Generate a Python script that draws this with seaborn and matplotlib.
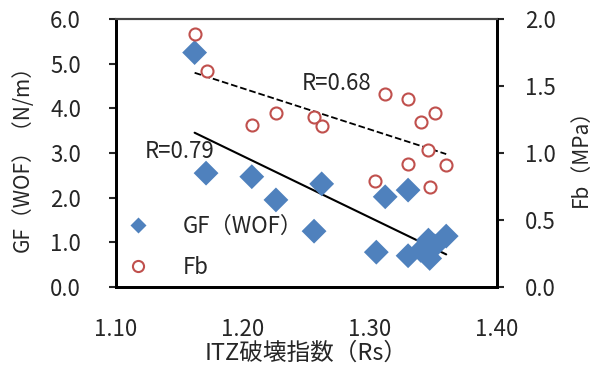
import numpy as np
import pandas as pd
import matplotlib
matplotlib.use("Agg")
import matplotlib.pyplot as plt
import seaborn as sns
from matplotlib.lines import Line2D

# ITZ破壊指数 (Rs) と各測定値
rs_gf = [1.162, 1.171, 1.207, 1.226, 1.256, 1.262, 1.305, 1.312, 1.330, 1.330,
         1.340, 1.346, 1.347, 1.351, 1.360]
gf = [5.25, 2.55, 2.47, 1.95, 1.25, 2.31, 0.78, 2.02, 2.17, 0.70,
      0.82, 1.05, 0.64, 0.92, 1.14]

rs_fb = [1.162, 1.172, 1.207, 1.226, 1.256, 1.262, 1.304, 1.312, 1.330, 1.330,
         1.340, 1.346, 1.347, 1.351, 1.360]
fb = [1.89, 1.61, 1.21, 1.30, 1.27, 1.20, 0.79, 1.44, 1.40, 0.92,
      1.23, 1.02, 0.75, 1.30, 0.91]

x_ticks = [1.10, 1.20, 1.30, 1.40]
gf_ticks = [0, 1, 2, 3, 4, 5, 6]
fb_ticks = [0, 0.5, 1.0, 1.5, 2.0]

df_gf = pd.DataFrame({"Rs": rs_gf, "GF": gf})
df_fb = pd.DataFrame({"Rs": rs_fb, "Fb": fb})

sns.set_style("white")
plt.rcParams["font.family"] = ["Noto Sans CJK JP", "DejaVu Sans"]
fs = 16

blue = "#4F81BD"
red = "#C0504D"

fig, ax = plt.subplots(figsize=(5.91, 3.67), dpi=100)
fig.subplots_adjust(left=0.196, right=0.841, bottom=0.218, top=0.948)
ax2 = ax.twinx()

# GF(WOF) - 左軸
sns.scatterplot(data=df_gf, x="Rs", y="GF", ax=ax, marker="D", s=160,
                color=blue, edgecolor="none", zorder=3)
sns.regplot(data=df_gf, x="Rs", y="GF", ax=ax, scatter=False, ci=None,
            truncate=True, color="black", line_kws={"lw": 1.5})

# Fb - 右軸
sns.scatterplot(data=df_fb, x="Rs", y="Fb", ax=ax2, marker="o", s=75,
                facecolor="white", edgecolor=red, linewidth=1.5, zorder=3)
sns.regplot(data=df_fb, x="Rs", y="Fb", ax=ax2, scatter=False, ci=None,
            truncate=True, color="black", line_kws={"lw": 1.3, "ls": "--"})

ax.set_xlim(1.10, 1.40)
ax.set_ylim(0, 6)
ax2.set_ylim(0, 2)
ax.set_xticks(x_ticks)
ax.set_xticklabels([f"{v:.2f}" for v in x_ticks], fontsize=fs)
ax.set_yticks(gf_ticks)
ax.set_yticklabels([f"{v:.1f}" for v in gf_ticks], fontsize=fs)
ax2.set_yticks(fb_ticks)
ax2.set_yticklabels([f"{v:.1f}" for v in fb_ticks], fontsize=fs)

ax.set_xlabel("ITZ破壊指数（Rs）", fontsize=fs + 1, labelpad=1)
ax.set_ylabel("GF（WOF）（N/m）", fontsize=fs - 1, labelpad=12)
ax2.set_ylabel("Fb（MPa）", fontsize=fs - 1, labelpad=10)

ax.tick_params(axis="x", direction="inout", length=8, width=1.5, pad=18)
ax.tick_params(axis="y", direction="out", length=5, width=1.5, pad=20)
ax2.tick_params(axis="y", direction="out", length=5, width=1.5, pad=15)

for a in (ax, ax2):
    for side in ("left", "right", "bottom"):
        a.spines[side].set_linewidth(2)
        a.spines[side].set_color("black")
    a.spines["top"].set_linewidth(1.5)
    a.spines["top"].set_color("#444444")

ax.text(1.123, 2.9, "R=0.79", fontsize=fs)
ax2.text(1.246, 1.47, "R=0.68", fontsize=fs)

handles = [
    Line2D([], [], marker="D", ls="none", color=blue, markersize=8, markeredgecolor="none"),
    Line2D([], [], marker="o", ls="none", markerfacecolor="white", markeredgecolor=red,
           markeredgewidth=1.5, markersize=8),
]
ax2.legend(handles, ["GF（WOF）", "Fb"], loc="lower left", frameon=False,
           fontsize=fs, handletextpad=1.0, labelspacing=0.8,
           bbox_to_anchor=(-0.052, -0.045))

fig.savefig("out.png", dpi=100)
